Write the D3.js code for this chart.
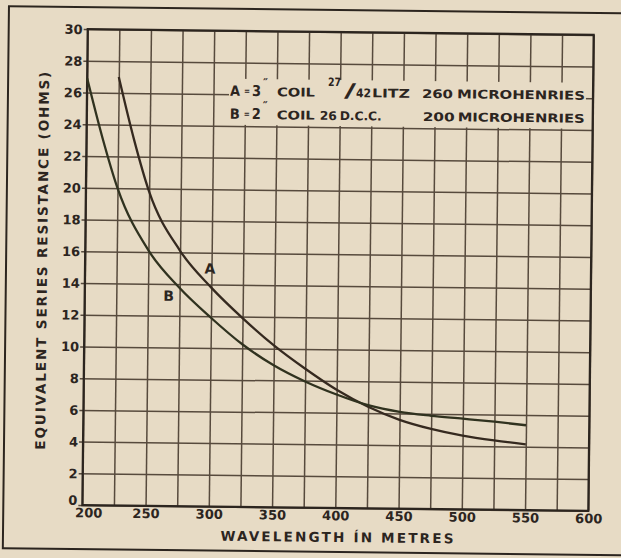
<!DOCTYPE html>
<html>
<head>
<meta charset="utf-8">
<script src="https://cdn.jsdelivr.net/npm/d3@7"></script>
<style>
  html, body { margin: 0; padding: 0; background: #e7dbc5; }
  svg { display: block; }
</style>
</head>
<body>
<svg id="chart" width="621" height="558"></svg>
<script>
// Wavelength grid (metres) and labelled ticks
const xGridValues = [200, 225, 250, 275, 300, 325, 350, 375, 400, 425, 450, 475, 500, 525, 550, 575, 600];
const xTickLabels = [200, 250, 300, 350, 400, 450, 500, 550, 600];
// Resistance grid (ohms)
const yTickLabels = [0, 2, 4, 6, 8, 10, 12, 14, 16, 18, 20, 22, 24, 26, 28, 30];

// Curve A: 3" coil, 27/42 litz, 260 microhenries
const wavelengthA = [225, 237.5, 250, 275, 300, 325, 350, 375, 400, 425, 450, 475, 500, 525, 550];
const resistanceA = [27.0, 23.1, 19.8, 16.1, 13.8, 11.9, 10.2, 8.75, 7.45, 6.4, 5.6, 5.05, 4.65, 4.37, 4.15];

// Curve B: 2" coil, 26 D.C.C., 200 microhenries
const wavelengthB = [200, 212.5, 225, 250, 275, 300, 325, 350, 375, 400, 425, 450, 475, 500, 525, 550];
const resistanceB = [26.9, 23.2, 20.0, 16.1, 13.75, 11.9, 10.25, 8.95, 7.95, 7.15, 6.5, 6.1, 5.88, 5.72, 5.55, 5.35];

const ink = "#2c251f";
const gridInk = "#574a3d";
const paper = "#e7dbc5";
const font = "'DejaVu Sans', sans-serif";

const margin = { left: 85, top: 32 };
const width = 506, height = 476;

const svg = d3.select("#chart");
svg.append("rect").attr("width", 621).attr("height", 558).attr("fill", paper);

// the printed sheet sits slightly skewed on the page
const sheet = svg.append("g").attr("transform", "rotate(0.65, 338, 270)");

// outer frame of the figure
sheet.append("rect")
  .attr("x", 6).attr("y", 10).attr("width", 660).attr("height", 542)
  .attr("fill", "none").attr("stroke", ink).attr("stroke-width", 2);

const g = sheet.append("g").attr("transform", `translate(${margin.left},${margin.top})`);

const x = d3.scaleLinear().domain([200, 600]).range([0, width]);
const y = d3.scaleLinear().domain([0, 30]).range([height, 0]);

// vertical grid lines
g.append("g")
  .attr("transform", `translate(0,${height})`)
  .call(d3.axisBottom(x).tickValues(xGridValues).tickSize(-height).tickFormat(""))
  .call(a => a.select(".domain").remove())
  .call(a => a.selectAll("line").attr("stroke", gridInk).attr("stroke-width", 1.5));

// horizontal grid lines, running a little past the left edge
g.append("g")
  .attr("transform", `translate(${width},0)`)
  .call(d3.axisRight(y).tickValues(yTickLabels).tickSize(-(width + 4)).tickFormat(""))
  .call(a => a.select(".domain").remove())
  .call(a => a.selectAll("line").attr("stroke", gridInk).attr("stroke-width", 1.5));

// plot border
g.append("rect")
  .attr("width", width).attr("height", height)
  .attr("fill", "none").attr("stroke", ink).attr("stroke-width", 2.2);

// y tick labels
g.append("g")
  .call(d3.axisLeft(y).tickValues(yTickLabels).tickSize(0).tickPadding(5))
  .call(a => a.select(".domain").remove())
  .call(a => a.selectAll("text")
    .attr("font-family", font).attr("font-weight", "bold").attr("font-size", 13)
    .attr("fill", ink)
    .attr("dy", d => d === 0 ? "-0.05em" : "0.34em"));

// x tick labels
g.append("g")
  .attr("transform", `translate(0,${height})`)
  .call(d3.axisBottom(x).tickValues(xTickLabels).tickSize(0).tickPadding(3))
  .call(a => a.select(".domain").remove())
  .call(a => a.selectAll("text")
    .attr("font-family", font).attr("font-weight", "bold").attr("font-size", 13)
    .attr("fill", ink)
    .attr("dx", d => d === 200 ? 6 : 0));

// legend panel
const leg = g.append("g").attr("transform", `translate(${-margin.left},${-margin.top})`);
leg.append("rect")
  .attr("x", 227).attr("y", 80).attr("width", 357).attr("height", 46)
  .attr("fill", paper);

function put(txt, px, py, size, opts = {}) {
  const t = leg.append("text")
    .attr("x", px).attr("y", py)
    .attr("font-family", font).attr("font-weight", "bold")
    .attr("font-size", size).attr("fill", ink)
    .text(txt);
  if (opts.len) t.attr("textLength", opts.len).attr("lengthAdjust", "spacingAndGlyphs");
  return t;
}
// row A
put("A", 228, 97, 14, { len: 10 });
put("=", 242, 95, 9, { len: 6 });
put("3", 250, 97, 15, { len: 9 });
put("\u2033", 261, 87, 11);
put("COIL", 275, 97, 12, { len: 38 });
put("27", 326, 86, 11.5, { len: 13 });
put("/", 342, 97, 19, { len: 12 });
put("42", 354, 97, 12, { len: 15 });
put("LITZ", 370, 97, 12, { len: 38 });
put("260", 420, 97, 12, { len: 31 });
put("MICROHENRIES", 455, 97, 12, { len: 128 });
// row B
put("B", 228, 120, 14, { len: 10 });
put("=", 242, 118, 9, { len: 6 });
put("2", 250, 120, 15, { len: 9 });
put("\u2033", 261, 110, 11);
put("COIL", 275, 120, 12, { len: 38 });
put("26", 318, 120, 12, { len: 17 });
put("D.C.C.", 338, 120, 12, { len: 42 });
put("200", 421, 120, 12, { len: 32 });
put("MICROHENRIES", 456, 120, 12, { len: 127 });

// curves
const line = d3.line()
  .x(d => x(d[0]))
  .y(d => y(d[1]))
  .curve(d3.curveMonotoneX);

const seriesA = wavelengthA.map((w, i) => [w, resistanceA[i]]);
const seriesB = wavelengthB.map((w, i) => [w, resistanceB[i]]);

g.append("path").datum(seriesA).attr("d", line)
  .attr("fill", "none").attr("stroke", "#35291f").attr("stroke-width", 2.3);
g.append("path").datum(seriesB).attr("d", line)
  .attr("fill", "none").attr("stroke", "#30321f").attr("stroke-width", 2.3);

// curve letters
g.append("text").attr("x", x(298.8)).attr("y", y(15.0) + 5)
  .attr("text-anchor", "middle").attr("font-family", font).attr("font-weight", "bold")
  .attr("font-size", 14).attr("fill", ink).text("A");
g.append("text").attr("x", x(266.4)).attr("y", y(13.25) + 5)
  .attr("text-anchor", "middle").attr("font-family", font).attr("font-weight", "bold")
  .attr("font-size", 14).attr("fill", ink).text("B");

// axis titles
sheet.append("text")
  .attr("transform", "translate(47,264) rotate(-90)")
  .attr("text-anchor", "middle")
  .attr("font-family", font).attr("font-weight", "bold").attr("font-size", 13.5)
  .attr("fill", ink)
  .attr("textLength", 378).attr("lengthAdjust", "spacing")
  .text("EQUIVALENT  SERIES  RESISTANCE  (OHMS)");

sheet.append("text")
  .attr("x", 340).attr("y", 542)
  .attr("text-anchor", "middle")
  .attr("font-family", font).attr("font-weight", "bold").attr("font-size", 13.5)
  .attr("fill", ink)
  .attr("textLength", 233).attr("lengthAdjust", "spacing")
  .text("WAVELENGTH  \u00CDN  METRES");
</script>
</body>
</html>
